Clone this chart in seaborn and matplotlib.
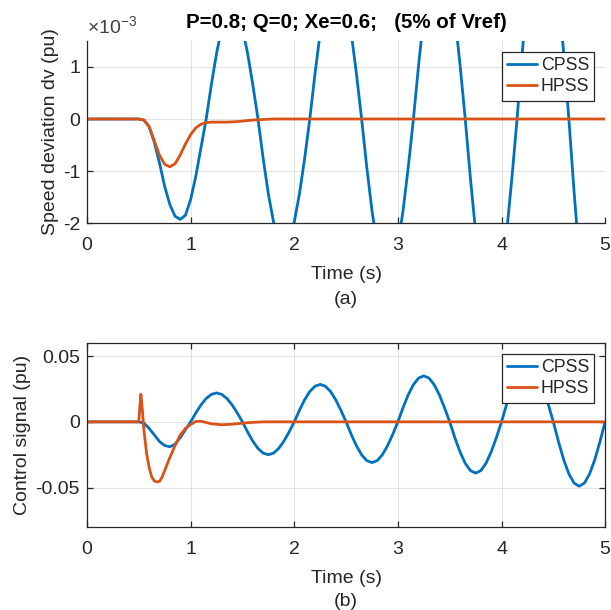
import numpy as np
import pandas as pd
import matplotlib
matplotlib.use("Agg")
import matplotlib.pyplot as plt
import seaborn as sns

# time base for the main traces (s)
t = np.round(np.arange(0, 5.0001, 0.05), 2)

# speed deviation (x1e-3 pu)
dv_cpss = [0] * 11 + [
    -0.02, -0.15, -0.45, -0.85, -1.3, -1.65, -1.87, -1.93, -1.85,          # 0.55-0.95
    -1.55, -1.1, -0.55, 0.0, 0.66, 1.26, 1.74, 2.04, 2.15, 2.04,            # 1.00-1.45
    1.74, 1.26, 0.66, 0.0, -0.76, -1.44, -1.98, -2.33, -2.45, -2.33,        # 1.50-1.95
    -1.98, -1.44, -0.76, 0.0, 0.87, 1.65, 2.27, 2.66, 2.8, 2.66,            # 2.00-2.45
    2.27, 1.65, 0.87, 0.0, -0.93, -1.76, -2.43, -2.85, -3.0, -2.85,         # 2.50-2.95
    -2.43, -1.76, -0.93, 0.0, 1.04, 1.97, 2.71, 3.19, 3.35, 3.19,           # 3.00-3.45
    2.71, 1.97, 1.04, 0.0, -1.14, -2.17, -2.99, -3.52, -3.7, -3.52,         # 3.50-3.95
    -2.99, -2.17, -1.14, 0.0, 1.27, 2.41, 3.32, 3.90, 4.1, 3.90,            # 4.00-4.45
    3.32, 2.41, 1.27, 0.0, -1.39, -2.65, -3.64, -4.28, -4.5, -4.28,         # 4.50-4.95
    -3.64]                                                                   # 5.00
dv_hpss = [0] * 11 + [
    -0.02, -0.15, -0.42, -0.7, -0.87, -0.92, -0.86, -0.69, -0.48,          # 0.55-0.95
    -0.3, -0.17, -0.1, -0.07, -0.06, -0.06, -0.06, -0.06, -0.055, -0.05,    # 1.00-1.45
    -0.04, -0.03, -0.02, -0.015, -0.01, -0.005] + [0] * 65                  # 1.50-5.00

# control signal (pu)
u_cpss = [0] * 11 + [
    -0.001, -0.005, -0.010, -0.015, -0.018, -0.019, -0.017, -0.012, -0.006,
    0.0, 0.0068, 0.0129, 0.0178, 0.0209, 0.022, 0.0209, 0.0178, 0.0129, 0.0068,
    0.0, -0.0077, -0.0147, -0.0202, -0.0238, -0.025, -0.0238, -0.0202, -0.0147, -0.0077,
    0.0, 0.0088, 0.0168, 0.0231, 0.0271, 0.0285, 0.0271, 0.0231, 0.0168, 0.0088,
    0.0, -0.0096, -0.0182, -0.0251, -0.0295, -0.031, -0.0295, -0.0251, -0.0182, -0.0096,
    0.0, 0.0108, 0.0206, 0.0283, 0.0333, 0.035, 0.0333, 0.0283, 0.0206, 0.0108,
    0.0, -0.0121, -0.0229, -0.0316, -0.0371, -0.039, -0.0371, -0.0316, -0.0229, -0.0121,
    0.0, 0.0136, 0.0259, 0.0356, 0.0418, 0.044, 0.0418, 0.0356, 0.0259, 0.0136,
    0.0, -0.0151, -0.0288, -0.0396, -0.0466, -0.049, -0.0466, -0.0396, -0.0288, -0.0151,
    0.0]

# HPSS control signal has a sharp spike at 0.5 s, so it gets its own time base
t_u_hpss = [0, 0.5, 0.51, 0.52, 0.53, 0.54, 0.55, 0.575, 0.6, 0.625, 0.65, 0.675,
            0.7, 0.725, 0.75, 0.8, 0.85, 0.9, 0.95, 1.0, 1.05, 1.1, 1.15, 1.2,
            1.3, 1.4, 1.5, 1.6, 1.7, 5.0]
u_hpss = [0, 0, 0.012, 0.021, 0.013, 0.003, -0.007, -0.024, -0.035, -0.042, -0.045, -0.0457,
          -0.0453, -0.042, -0.037, -0.027, -0.018, -0.010, -0.005, -0.002, 0.0003, 0.0005, -0.0005, -0.0015,
          -0.0022, -0.0018, -0.001, -0.0004, 0.0, 0.0]

x_ticks = [0, 1, 2, 3, 4, 5]
dv_ticks = [-2, -1, 0, 1]
u_ticks = [-0.05, 0, 0.05]

BLUE = "#0072BD"
ORANGE = "#D95319"
AX = "#262626"
FS = 14
LFS = 12.8

sns.set_theme(style="white")
plt.rcParams['font.family'] = ['Liberation Sans', 'DejaVu Sans']
plt.rcParams['mathtext.fontset'] = 'custom'
plt.rcParams['mathtext.rm'] = 'Liberation Sans'
plt.rcParams['axes.unicode_minus'] = False


def style_axes(ax, box):
    ax.grid(True, color="#E3E3E3", linewidth=0.8)
    ax.set_axisbelow(True)
    for side in ["left", "bottom", "top", "right"]:
        ax.spines[side].set_color(AX)
        ax.spines[side].set_linewidth(0.9)
        ax.spines[side].set_visible(box or side in ("left", "bottom"))
    ax.tick_params(direction="in", length=4, width=0.9, color=AX, labelcolor=AX,
                   labelsize=FS, top=box, right=box, bottom=True, left=True)
    ax.tick_params(axis="x", pad=10)
    ax.tick_params(axis="y", pad=5)
    ax.set_xlim(0, 5)
    ax.set_xticks(x_ticks)
    ax.set_xticklabels([str(v) for v in x_ticks])
    ax.set_xlabel("Time (s)", fontsize=FS, color=AX, labelpad=9)
    ax.legend(loc="upper right", fontsize=LFS, fancybox=False, framealpha=1,
              edgecolor=AX, borderaxespad=0.6, handlelength=1.7, handletextpad=0.2,
              labelspacing=0.25, borderpad=0.3)
    ax.get_legend().get_frame().set_linewidth(0.9)


fig = plt.figure(figsize=(6.11, 6.10), dpi=100)
ax1 = fig.add_axes([0.1424, 0.6344, 0.848, 0.2984])
ax2 = fig.add_axes([0.1424, 0.1361, 0.848, 0.3016])

df_dv = pd.DataFrame({"t": t, "CPSS": dv_cpss, "HPSS": dv_hpss})
sns.lineplot(data=df_dv, x="t", y="CPSS", ax=ax1, color=BLUE, linewidth=2.0,
             label="CPSS", estimator=None, sort=False)
sns.lineplot(data=df_dv, x="t", y="HPSS", ax=ax1, color=ORANGE, linewidth=2.0,
             label="HPSS", estimator=None, sort=False)
ax1.set_ylim(-2, 1.5)
ax1.set_yticks(dv_ticks)
ax1.set_yticklabels([str(v) for v in dv_ticks])
ax1.set_ylabel("Speed deviation dv (pu)", fontsize=FS, color=AX, labelpad=3)
style_axes(ax1, box=False)
ax1.text(0.0, 1.015, r"$\times10^{-3}$", transform=ax1.transAxes, fontsize=FS,
         color="#404040", ha="left", va="bottom")
ax1.set_title("P=0.8; Q=0; Xe=0.6;   (5% of Vref)", fontsize=14.8, fontweight="bold",
              color="black", pad=9)

df_u = pd.DataFrame({"t": t, "CPSS": u_cpss})
df_uh = pd.DataFrame({"t": t_u_hpss, "HPSS": u_hpss})
sns.lineplot(data=df_u, x="t", y="CPSS", ax=ax2, color=BLUE, linewidth=2.0,
             label="CPSS", estimator=None, sort=False)
sns.lineplot(data=df_uh, x="t", y="HPSS", ax=ax2, color=ORANGE, linewidth=2.0,
             label="HPSS", estimator=None, sort=False)
ax2.set_ylim(-0.08, 0.06)
ax2.set_yticks(u_ticks)
ax2.set_yticklabels(["-0.05", "0", "0.05"])
ax2.set_ylabel("Control signal (pu)", fontsize=FS, color=AX, labelpad=3)
style_axes(ax2, box=True)

fig.text(346 / 611, 1 - 299 / 610, "(a)", fontsize=FS, color=AX, ha="center", va="center")
fig.text(346 / 611, 1 - 601 / 610, "(b)", fontsize=FS, color=AX, ha="center", va="center")

fig.savefig("out.png", dpi=100)
